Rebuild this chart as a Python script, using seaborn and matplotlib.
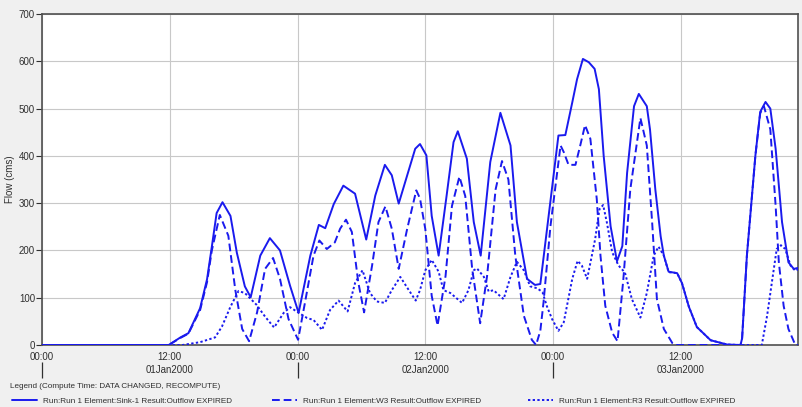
import matplotlib
matplotlib.use("Agg")
import matplotlib.pyplot as plt
import seaborn as sns
import pandas as pd

# Hours after 01Jan2000 00:00 and flows (cms)
sink_hours = [0, 11.9, 13.0, 13.75, 14.85, 15.5, 15.95, 16.4, 16.95, 17.7, 18.3, 19.05, 19.6, 20.5,
              21.4, 22.35, 23.3, 24.1, 25.2, 26.0, 26.6, 27.4, 28.3, 29.4, 30.45, 31.3, 32.2, 32.85,
              33.5, 34.3, 35.05, 35.5, 36.1, 36.6, 37.25, 38.0, 38.65, 39.05, 39.9, 40.55, 41.2, 42.1,
              43.05, 44.0, 44.6, 45.55, 46.3, 46.8, 47.7, 48.5, 49.15, 49.8, 50.25, 50.8, 51.35, 51.9,
              52.3, 52.75, 53.4, 54.0, 54.5, 54.95, 55.6, 56.05, 56.8, 57.1, 57.6, 58.1, 58.4, 58.85,
              59.65, 60.1, 60.75, 61.5, 62.8, 64.35, 65.6, 65.75, 66.2, 67.0, 67.45, 67.95, 68.4, 68.9,
              69.5, 70.1, 70.6, 71.0]
sink_flow = [0, 0, 16, 25, 78, 139, 208, 279, 302, 273, 195, 124, 101, 189,
             226, 200, 125, 68, 189, 254, 247, 298, 337, 320, 223, 316, 381, 359,
             299, 359, 415, 425, 401, 273, 189, 316, 429, 452, 394, 260, 189, 387,
             491, 422, 260, 140, 127, 129, 295, 443, 444, 513, 562, 605, 598, 584,
             541, 400, 251, 177, 209, 364, 505, 531, 505, 456, 329, 230, 189, 155,
             152, 131, 81, 38, 10, 1, 0, 14, 189, 401, 493, 514, 500, 415,
             260, 175, 161, 163]

w3_hours = [0, 11.9, 13.0, 13.75, 14.85, 15.5, 15.95, 16.7, 17.5, 18.15, 18.8, 19.45, 20.2, 20.95,
            21.7, 22.35, 23.15, 24.05, 24.7, 25.5, 26.05, 26.75, 27.5, 28.0, 28.55, 29.1, 29.7, 30.25,
            31.0, 31.6, 32.25, 32.85, 33.5, 34.3, 35.15, 35.5, 36.0, 36.6, 37.15, 37.9, 38.5, 39.2,
            39.75, 40.4, 41.15, 41.8, 42.6, 43.2, 43.8, 44.45, 45.25, 46.0, 46.4, 46.8, 47.1, 47.75,
            48.7, 49.0, 49.45, 50.1, 50.55, 51.0, 51.5, 52.1, 52.45, 52.9, 53.55, 54.05, 54.6, 55.25,
            56.2, 56.8, 57.3, 57.75, 58.4, 59.2, 59.5, 65.6, 65.75, 66.2, 67.0, 67.45, 67.8, 68.4,
            68.9, 69.2, 69.65, 70.1, 70.75, 71.0]
w3_flow = [0, 0, 15, 24, 74, 133, 200, 275, 231, 117, 34, 8, 69, 161,
           184, 140, 55, 11, 90, 189, 221, 203, 217, 246, 265, 239, 133, 69,
           168, 260, 293, 246, 161, 246, 327, 310, 245, 104, 41, 146, 294, 356,
           315, 161, 46, 146, 329, 389, 350, 189, 62, 11, 0, 30, 90, 251,
           422, 408, 381, 381, 422, 465, 436, 309, 189, 83, 26, 8, 140, 329,
           480, 422, 260, 97, 34, 4, 0, 0, 14, 189, 401, 490, 505, 456,
           294, 175, 83, 34, 0, 0]

r3_hours = [0, 13.2, 14.85, 16.25, 16.9, 17.7, 18.45, 19.05, 20.15, 20.95, 21.8, 22.7, 23.3, 23.9,
            24.9, 25.5, 26.3, 27.05, 27.85, 28.7, 29.4, 30.1, 30.8, 31.45, 32.2, 32.85, 33.65, 34.45,
            35.1, 35.5, 36.0, 36.6, 37.25, 37.7, 38.35, 39.45, 40.05, 40.55, 40.85, 41.5, 41.95, 42.4,
            43.35, 44.0, 44.6, 45.25, 45.85, 46.5, 47.0, 47.4, 47.9, 48.5, 49.0, 49.8, 50.3, 50.7,
            51.2, 51.95, 52.35, 52.7, 53.05, 53.55, 54.15, 54.75, 55.4, 56.2, 56.8, 57.45, 57.9, 58.4,
            58.85, 59.65, 60.1, 60.75, 61.5, 62.8, 64.35, 65.6, 67.6, 68.1, 68.55, 69.0, 69.4, 69.8,
            70.3, 70.75, 71.0]
r3_flow = [0, 0, 6, 16, 39, 81, 114, 110, 85, 60, 37, 68, 80, 71,
           57, 53, 32, 74, 94, 71, 131, 158, 110, 92, 89, 116, 144, 116,
           94, 116, 158, 180, 155, 116, 110, 89, 116, 158, 162, 144, 113, 116,
           97, 144, 176, 158, 124, 120, 112, 83, 55, 30, 48, 140, 178, 168,
           140, 224, 287, 296, 259, 196, 168, 153, 97, 58, 110, 189, 208, 189,
           154, 152, 131, 81, 38, 10, 1, 0, 0, 62, 133, 203, 211, 203,
           168, 157, 160]

labels = ["Run:Run 1 Element:Sink-1 Result:Outflow EXPIRED",
          "Run:Run 1 Element:W3 Result:Outflow EXPIRED",
          "Run:Run 1 Element:R3 Result:Outflow EXPIRED"]

time_ticks = [0, 12, 24, 36, 48, 60]
time_labels = ["00:00", "12:00", "00:00", "12:00", "00:00", "12:00"]
day_centers = [12, 36, 60]
day_labels = ["01Jan2000", "02Jan2000", "03Jan2000"]
day_bounds = [0, 24, 48]

sns.set_style("white")
plt.rcParams['font.family'] = ['Liberation Sans', 'DejaVu Sans']
fs = 7
fs_leg = 5.9
txt = '#303030'

blue = '#1a1aee'
fig = plt.figure(figsize=(8.02, 4.07), dpi=100, facecolor='#f0f0f0')
ax = fig.add_axes([42 / 802, 1 - 345 / 407, 756 / 802, 331 / 407])
ax.set_facecolor('white')

styles = ['-', (0, (4, 2)), (0, (1.2, 1.2))]
series = [(sink_hours, sink_flow), (w3_hours, w3_flow), (r3_hours, r3_flow)]
handles = []
for (h, v), ls, lab, z in zip(series, styles, labels, [5, 4, 3]):
    df = pd.DataFrame({'hour': h, 'flow': v})
    sns.lineplot(data=df, x='hour', y='flow', ax=ax, color=blue, linewidth=1.4,
                 linestyle=ls, sort=False, errorbar=None, zorder=z)
    handles.append(ax.lines[-1])

ax.set_xlim(0, 71)
ax.set_ylim(0, 700)
ax.set_yticks(range(0, 701, 100))
ax.set_xticks(time_ticks)
ax.set_xticklabels(time_labels)
ax.grid(True, color='#c8c8c8', linewidth=0.8)
ax.set_axisbelow(True)
ax.tick_params(axis='y', length=4, width=0.8, labelsize=fs, pad=1, colors=txt, left=True)
ax.tick_params(axis='x', length=0, labelsize=fs, pad=5, colors=txt)
for s in ax.spines.values():
    s.set_color('#505050')
    s.set_linewidth(1.2)
ax.set_xlabel('')
ax.set_ylabel('Flow (cms)', fontsize=fs, labelpad=3, color=txt)

# Date row under the time labels
tr = ax.get_xaxis_transform()
for c, lab in zip(day_centers, day_labels):
    ax.text(c, -0.077, lab, transform=tr, ha='center', va='center', fontsize=fs, color=txt)
ax.vlines(day_bounds, -0.1, -0.052, transform=tr, colors=txt, linewidth=0.9, clip_on=False)

fig.text(10 / 802, 1 - 386 / 407, "Legend (Compute Time: DATA CHANGED, RECOMPUTE)",
         fontsize=fs_leg, va='center', color=txt)
for hnd, lab, x0 in zip(handles, labels, [12, 272, 528]):
    fig.legend([hnd], [lab], loc='center left', bbox_to_anchor=(x0 / 802, 1 - 401 / 407),
               frameon=False, fontsize=fs_leg, handlelength=3.0, handletextpad=0.8,
               borderpad=0, borderaxespad=0, labelcolor=txt)

fig.savefig('out.png', dpi=100, facecolor=fig.get_facecolor())
